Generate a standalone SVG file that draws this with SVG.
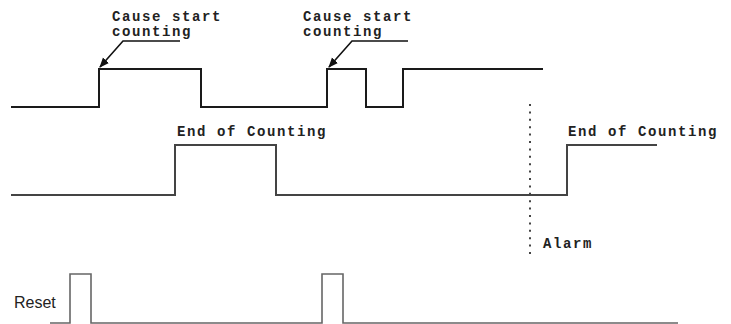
<svg xmlns="http://www.w3.org/2000/svg" width="731" height="324" viewBox="0 0 731 324">
<style>
.lbl{font-family:"Liberation Mono","Courier New",monospace;font-weight:bold;font-size:14px;letter-spacing:1.6px;fill:#222}
.sig{fill:none;stroke-linejoin:miter}
.s1{stroke:#1a1a1a;stroke-width:2}
.s2{stroke:#444;stroke-width:2}
.s3{stroke:#666;stroke-width:1.6}
.ptr{fill:none;stroke:#111;stroke-width:1.6}
</style>
<defs>
<marker id="ah" viewBox="0 0 10 10" refX="9" refY="5" markerWidth="10" markerHeight="10" markerUnits="userSpaceOnUse" orient="auto">
<path d="M0,1 L10,5 L0,9 z" fill="#111"/>
</marker>
</defs>
<rect width="731" height="324" fill="#fff"/>
<g id="signal-start">
<path class="sig s1" d="M11,107 H99 V69 H201 V107 H327 V69 H366 V107 H403 V69 H543"/>
</g>
<g id="signal-end">
<path class="sig s2" d="M11,195 H175 V145 H276 V195 H567 V145 H657"/>
</g>
<g id="signal-reset">
<path class="sig s3" d="M50,323 H70 V274 H91 V323 H322 V274 H343 V323 H678"/>
<text x="14" y="308" font-family="Liberation Sans, Arial, sans-serif" font-size="16" fill="#222">Reset</text>
</g>
<g id="label-cause-1">
<text class="lbl" x="112" y="21">Cause start</text>
<text class="lbl" x="112" y="36">counting</text>
</g>
<g id="label-cause-2">
<text class="lbl" x="303" y="21">Cause start</text>
<text class="lbl" x="303" y="36">counting</text>
</g>
<g id="label-end-1">
<text class="lbl" x="177" y="136">End of Counting</text>
</g>
<g id="label-end-2">
<text class="lbl" x="568" y="136">End of Counting</text>
</g>
<g id="alarm">
<line x1="530" y1="104" x2="530" y2="256" stroke="#444" stroke-width="2" stroke-dasharray="2 5.4"/>
<text class="lbl" x="543" y="248">Alarm</text>
</g>
<g id="connectors">
<path class="ptr" d="M180,41 H123 L100,67" marker-end="url(#ah)"/>
<path class="ptr" d="M408,41 H352 L329,67" marker-end="url(#ah)"/>
</g>
</svg>
